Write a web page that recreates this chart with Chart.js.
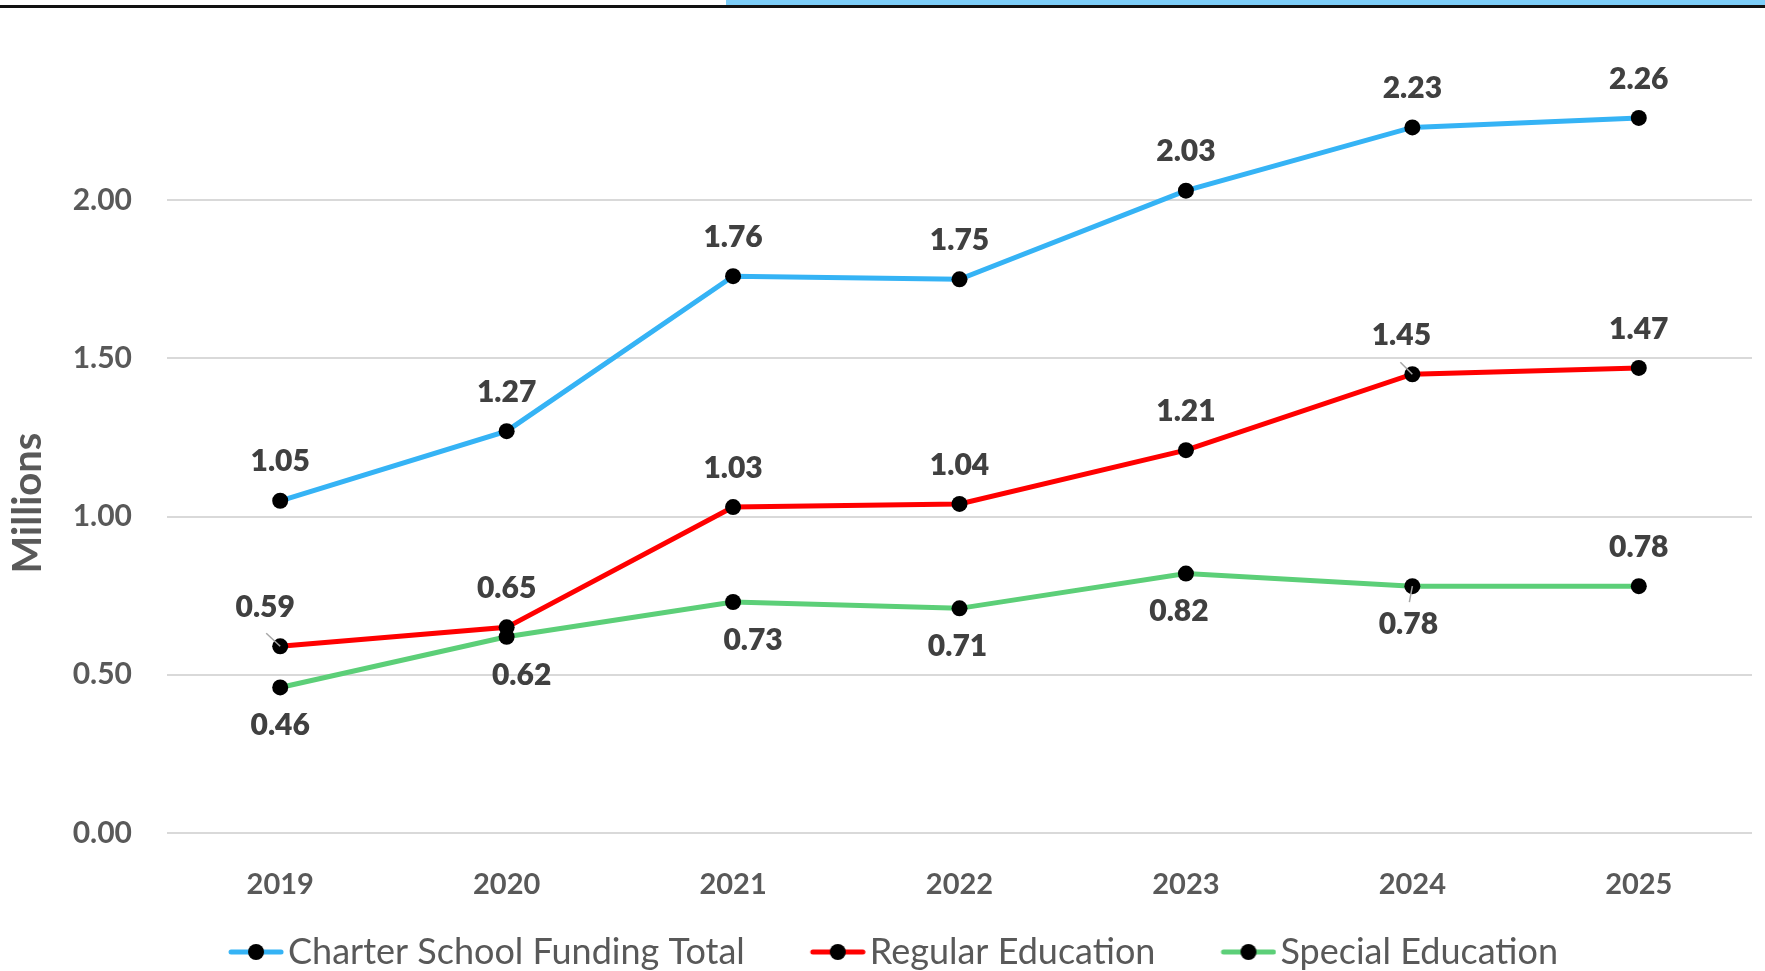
<!DOCTYPE html>
<html>
<head>
<meta charset="utf-8">
<script src="https://cdn.jsdelivr.net/npm/chart.js@4/dist/chart.umd.min.js"></script>
<style>
    html, body { margin: 0; padding: 0; background: #fff; overflow: hidden; }
    #wrap { position: relative; width: 1765px; height: 980px; }
    .band { position: absolute; top: 0; left: 726px; right: 0; height: 5px; background: #7ccdf8; }
    .rule { position: absolute; top: 5px; left: 0; right: 0; height: 3px; background: #111; }
</style>
</head>
<body>
<div id="wrap">
    <canvas id="chart"></canvas>
    <div class="band"></div>
    <div class="rule"></div>
</div>
<script>
const years = ['2019', '2020', '2021', '2022', '2023', '2024', '2025'];
const charterTotal = [1.05, 1.27, 1.76, 1.75, 2.03, 2.23, 2.26];
const regularEd = [0.59, 0.65, 1.03, 1.04, 1.21, 1.45, 1.47];
const specialEd = [0.46, 0.62, 0.73, 0.71, 0.82, 0.78, 0.78];
const yTicks = [0, 0.5, 1, 1.5, 2];

// which side of the point each value label sits on ('a' above, 'b' below)
const charterSide = ['a', 'a', 'a', 'a', 'a', 'a', 'a'];
const regularSide = ['a', 'a', 'a', 'a', 'a', 'a', 'a'];
const specialSide = ['b', 'b', 'b', 'b', 'b', 'b', 'a'];
// small sideways nudges so labels don't collide
const regularNudge = [-15, 0, 0, 0, 0, -11, 0];
const specialNudge = [0, 15, 20, -2, -7, -4, 0];
// thin grey leader lines where a label was dragged off its point
const regularLeader = [[-14, -13], null, null, null, null, [-12, -12], null];
const specialLeader = [null, null, null, null, null, [-3, 16], null];

const textColor = '#595959';
const font = 'Lato';

// legend key: coloured line with a black dot, sitting at the right of a wider transparent canvas
function legendMark(color) {
    const c = document.createElement('canvas');
    c.width = 104;
    c.height = 20;
    const g = c.getContext('2d');
    g.strokeStyle = color;
    g.lineWidth = 5;
    g.lineCap = 'round';
    g.beginPath();
    g.moveTo(51, 10);
    g.lineTo(101, 10);
    g.stroke();
    g.fillStyle = '#000';
    g.beginPath();
    g.arc(76, 10, 8, 0, Math.PI * 2);
    g.fill();
    return c;
}

const valueLabels = {
    id: 'valueLabels',
    afterDatasetsDraw(chart) {
        const ctx = chart.ctx;
        ctx.save();
        ctx.font = '800 30px ' + font;
        ctx.fillStyle = '#404040';
        ctx.textAlign = 'center';
        ctx.textBaseline = 'middle';
        chart.data.datasets.forEach((ds, i) => {
            chart.getDatasetMeta(i).data.forEach((pt, j) => {
                const below = ds.labelSide[j] === 'b';
                const x = pt.x + (ds.labelNudge ? ds.labelNudge[j] : 0);
                const y = pt.y + (below ? 38 : -39);
                ctx.fillText(ds.data[j].toFixed(2), x, y);
                const lead = ds.leader && ds.leader[j];
                if (lead) {
                    ctx.strokeStyle = '#a6a6a6';
                    ctx.lineWidth = 1.5;
                    ctx.beginPath();
                    ctx.moveTo(pt.x, pt.y);
                    ctx.lineTo(pt.x + lead[0], pt.y + lead[1]);
                    ctx.stroke();
                }
            });
        });
        ctx.restore();
    }
};

const axisTitle = {
    id: 'axisTitle',
    afterDraw(chart) {
        const ctx = chart.ctx;
        ctx.save();
        ctx.translate(28, 503);
        ctx.rotate(-Math.PI / 2);
        ctx.font = 'bold 40px ' + font;
        ctx.fillStyle = textColor;
        ctx.textAlign = 'center';
        ctx.textBaseline = 'middle';
        ctx.fillText('Millions', 0, 0);
        ctx.restore();
    }
};

const marks = [legendMark('#35b3f5'), legendMark('#ff0000'), legendMark('#5ccf78')];

new Chart(document.getElementById('chart'), {
    type: 'line',
    data: {
        labels: years,
        datasets: [
            { label: 'Charter School Funding Total', data: charterTotal, borderColor: '#35b3f5', labelSide: charterSide },
            { label: 'Regular Education', data: regularEd, borderColor: '#ff0000', labelSide: regularSide, labelNudge: regularNudge, leader: regularLeader },
            { label: 'Special Education', data: specialEd, borderColor: '#5ccf78', labelSide: specialSide, labelNudge: specialNudge, leader: specialLeader }
        ]
    },
    options: {
        responsive: true,
        maintainAspectRatio: false,
        animation: false,
        devicePixelRatio: 1,
        layout: { padding: { top: 42, right: 13, left: 0, bottom: 0 } },
        elements: {
            line: { borderWidth: 5, tension: 0 },
            point: { radius: 8, backgroundColor: '#000', borderWidth: 0, hoverRadius: 8 }
        },
        scales: {
            x: {
                offset: true,
                grid: { display: false, drawTicks: false },
                border: { display: false },
                ticks: { color: textColor, font: { family: font, size: 29, weight: 'bold' }, padding: 34 },
                afterFit(scale) { scale.height = 70; }
            },
            y: {
                min: 0,
                max: 2.5,
                afterBuildTicks(scale) { scale.ticks = yTicks.map(v => ({ value: v })); },
                grid: { color: '#d9d9d9', lineWidth: 2, drawTicks: false },
                border: { display: false },
                ticks: {
                    color: textColor,
                    font: { family: font, size: 30, weight: 'bold' },
                    padding: 35,
                    callback: v => v.toFixed(2)
                },
                afterFit(scale) {
                    scale.width = 167;
                    scale.paddingTop = 0;
                }
            }
        },
        plugins: {
            tooltip: { enabled: false },
            legend: {
                position: 'bottom',
                labels: {
                    usePointStyle: true,
                    pointStyleWidth: 76,
                    padding: 31,
                    color: textColor,
                    font: { family: font, size: 36 },
                    generateLabels(chart) {
                        const items = Chart.defaults.plugins.legend.labels.generateLabels(chart);
                        items.forEach(item => { item.pointStyle = marks[item.datasetIndex]; });
                        return items;
                    }
                }
            }
        }
    },
    plugins: [valueLabels, axisTitle]
});
</script>
</body>
</html>
